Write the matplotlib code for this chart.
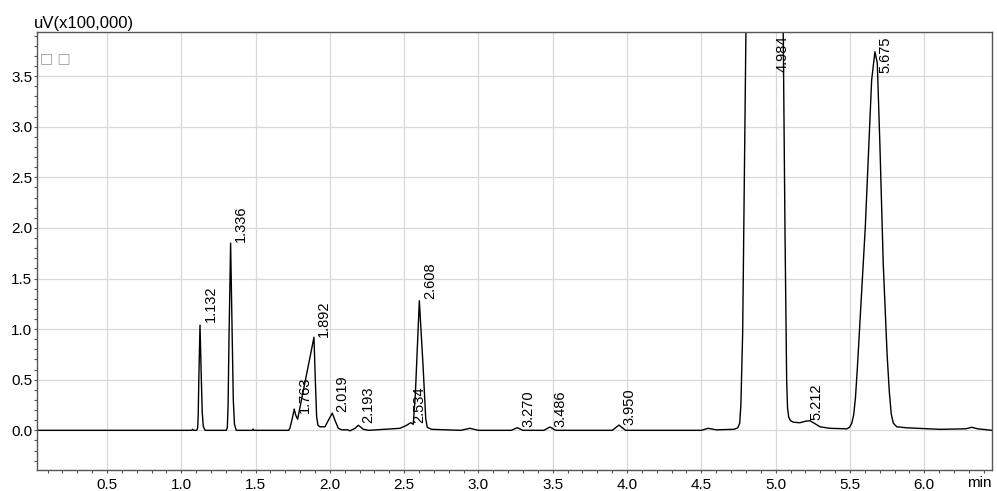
import matplotlib
matplotlib.use("Agg")
import matplotlib.pyplot as plt
from matplotlib.ticker import MultipleLocator, FormatStrFormatter

plt.rcParams['font.family'] = ['Liberation Sans', 'DejaVu Sans']

# chromatogram trace, vertices (min, uV x100,000)
trace_t = [0.03, 1.070, 1.076, 1.082,
           1.103, 1.110, 1.114, 1.118, 1.126, 1.135, 1.141, 1.148, 1.160,
           1.303, 1.310, 1.315, 1.321, 1.332, 1.343, 1.350, 1.358, 1.370,
           1.478, 1.483, 1.488,
           1.722, 1.731, 1.749, 1.760, 1.770, 1.783, 1.893, 1.902, 1.911, 1.920, 1.933,
           1.967, 2.001, 2.016, 2.034, 2.057, 2.080,
           2.120, 2.135, 2.170, 2.191, 2.205, 2.225, 2.260,
           2.472, 2.517, 2.543, 2.561, 2.575, 2.602, 2.627, 2.645, 2.655, 2.685,
           2.880, 2.943, 3.000,
           3.220, 3.261, 3.300, 3.440, 3.481, 3.520, 3.900, 3.946, 3.990,
           4.500, 4.546, 4.600,
           4.720, 4.745, 4.758, 4.766, 4.778, 4.800, 4.920, 5.051, 5.063,
           5.074, 5.080, 5.088, 5.100, 5.120, 5.163, 5.200, 5.231, 5.260, 5.298, 5.365,
           5.480, 5.497, 5.512, 5.525, 5.537, 5.550, 5.603, 5.646, 5.668, 5.684, 5.702,
           5.724, 5.750, 5.765, 5.778, 5.792, 5.815, 5.881, 6.105, 6.280, 6.319, 6.360, 6.456]
trace_y = [0.0, 0.0, 0.010, 0.0,
           0.0, 0.02, 0.15, 0.50, 1.04, 0.50, 0.18, 0.04, 0.0,
           0.0, 0.03, 0.25, 0.90, 1.85, 0.90, 0.30, 0.06, 0.0,
           0.0, 0.012, 0.0,
           0.0, 0.02, 0.13, 0.21, 0.15, 0.11, 0.92, 0.50, 0.13, 0.05, 0.035,
           0.035, 0.13, 0.17, 0.10, 0.02, 0.005,
           0.005, -0.005, 0.02, 0.05, 0.035, 0.01, 0.0,
           0.02, 0.05, 0.075, 0.06, 0.35, 1.28, 0.64, 0.12, 0.03, 0.01,
           0.0, 0.02, 0.0,
           0.0, 0.026, 0.0, 0.0, 0.033, 0.0, 0.0, 0.052, 0.0,
           0.0, 0.02, 0.005,
           0.01, 0.025, 0.07, 0.25, 0.96, 3.94, 12.0, 3.92, 1.95,
           0.50, 0.22, 0.13, 0.095, 0.08, 0.075, 0.09, 0.095, 0.07, 0.035, 0.02,
           0.015, 0.03, 0.07, 0.15, 0.32, 0.62, 2.00, 3.46, 3.74, 3.63, 2.80,
           1.65, 0.75, 0.38, 0.16, 0.07, 0.035, 0.025, 0.01, 0.015, 0.03, 0.015, 0.0]

# peak labels: retention time and height where the label sits
peak_rt = [1.132, 1.336, 1.763, 1.892, 2.019, 2.193, 2.534, 2.608,
           3.270, 3.486, 3.950, 4.984, 5.212, 5.675]
peak_h = [1.07, 1.86, 0.17, 0.925, 0.18, 0.07, 0.07, 1.30,
          0.035, 0.035, 0.05, 3.54, 0.10, 3.53]

W, H = 997, 491
fig = plt.figure(figsize=(W / 100, H / 100), dpi=100)
ax = fig.add_axes([36.7 / W, 1 - 470 / H, (992 - 36.7) / W, (470 - 32.3) / H])

ax.plot(trace_t, trace_y, color='black', lw=1.0)

for rt, h in zip(peak_rt, peak_h):
    ax.annotate('%.3f' % rt, xy=(rt, h), xytext=(7, 0), textcoords='offset points',
                rotation=90, ha='center', va='bottom', fontsize=10.5, color='black',
                annotation_clip=False)

ax.set_xlim(0.027, 6.456)
ax.set_ylim(-0.392, 3.933)
ax.xaxis.set_major_locator(MultipleLocator(0.5))
ax.xaxis.set_minor_locator(MultipleLocator(0.1))
ax.yaxis.set_major_locator(MultipleLocator(0.5))
ax.yaxis.set_minor_locator(MultipleLocator(0.1))
ax.xaxis.set_major_formatter(FormatStrFormatter('%.1f'))
ax.yaxis.set_major_formatter(FormatStrFormatter('%.1f'))
ax.grid(True, which='major', color='#d8d8d8', lw=0.9)
ax.set_axisbelow(True)

for s in ax.spines.values():
    s.set_color('#555555')
    s.set_linewidth(1.0)

ax.tick_params(which='both', direction='out', length=2.5, width=0.8, color='#555555',
               labelsize=11)
ax.tick_params(axis='y', pad=0.8)
ax.tick_params(axis='x', pad=3.5)

fig.text(34 / W, 1 - 28 / H, 'uV(x100,000)', fontsize=12, va='baseline', ha='left')
fig.text(979.5 / W, 1 - 476 / H, 'min', fontsize=11, va='top', ha='center')
ax.text(0.0035, 0.941, '\u25a1 \u25a1', transform=ax.transAxes, color='#999999',
        fontsize=10, va='center', ha='left', family='DejaVu Sans')

fig.savefig('out.png', dpi=100)
